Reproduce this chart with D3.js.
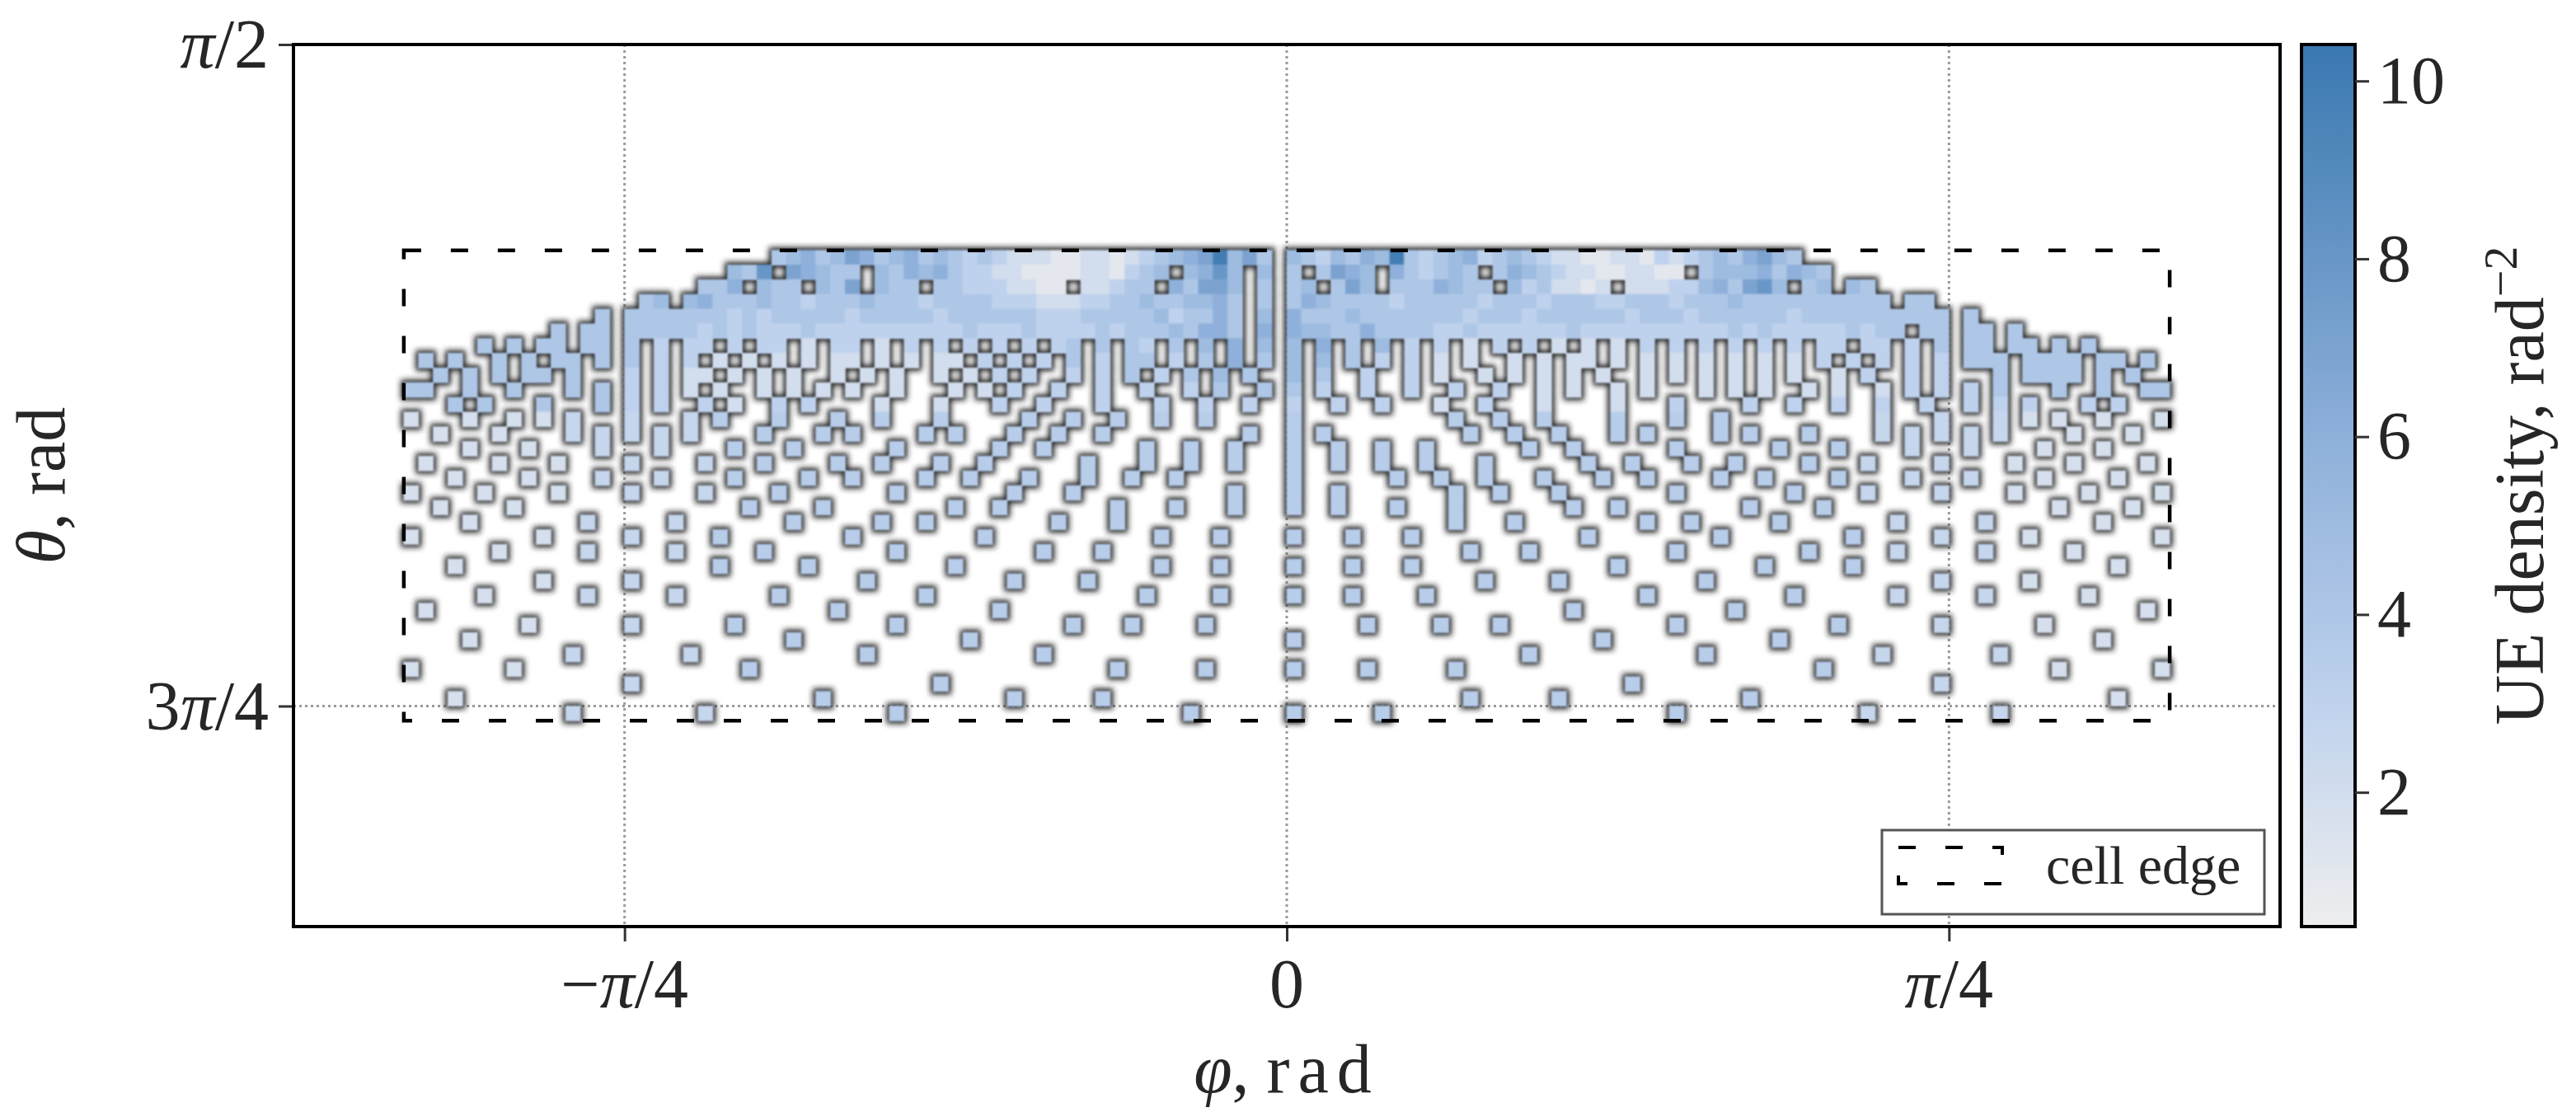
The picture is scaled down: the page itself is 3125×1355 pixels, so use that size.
<!DOCTYPE html>
<html>
<head>
<meta charset="utf-8">
<script src="https://cdn.jsdelivr.net/npm/d3@7"></script>
<style>
body { margin: 0; background: #fff; }
text { font-family: "Liberation Serif", "DejaVu Serif", serif; fill: #262626; }
</style>
</head>
<body>
<svg id="chart" width="3125" height="1355"></svg>
<script>
// 网格: 每格 1°, φ 从 -60° 起, θ 从 104° 起
const PHI_START = -60, THETA_START = 104, STEP = 1;
const N_COLS = 120, N_ROWS = 32;

// 密集带 rows 0-10, 每行 12 段, 每段 10 格 ('.' 空, 数字=密度, a=10)
const bandRows = [
  ["..........","..........",".....45645","7645645434","3222112212","34567a574.","5435465a43","4563454322","1122132345","46754.....","..........",".........."],
  ["..........","..........","..548.7654","4.54656433","2211112213","45.5685.5.","4.4765.643","454.465432","2112211.45","5564654...","..........",".........."],
  ["..........","..........","446.544.54","7.544.4433","32211.2234","4.64775.4.","45.475.444","6544.53422","12.2223356","4785.45.54","..........",".........."],
  ["..........","......45.5","6444544344","4544434444","3332223344","5445564.4.","4654444344","4443444344","4334443444","5444444444","4.44......",".........."],
  ["..........","...4.44444","4434344444","3444443444","4443334444","4534464.5.","6444544444","4434443444","4443444344","4444344444","44444.4...",".........."],
  ["..........","4.44.44444","3434333433","3333333343","3343333434","4454664.6.","6554464444","3343333334","3333333333","4343333343","44.44.44.4",".........."],
  [".....4.4.4","4.44.4.3.3","3.3.33.2.3","3.2.3.3.3.","3.3.34.4.4","3.4.5.6.5.","5.6.4.5.3.","3.2.3.3.2.","2.2.3.3.3.","3.3.3.33.3","3.3.4.44.4","4.4.4....."],
  [".4.4..4.4.","44.4.4.3.3",".2.2.2.2.2","2.2.2.22.3",".3.3.4.3.4","4.3.4.6.4.","5.5.4.3.3.","2.2..2.2.2","2.2.2.2.2.","2.2.2.3.3.","3.3.3.444.","4444.44.4."],
  ["..4.4.4.44",".4...3.3.2","2.2.2.2..2",".2.2..2.2.","3.3..3.3.4",".3.4.5.4..","5.4..3..3.","2..2.2.2.2",".2..2.2.2.","2.2.2..2.3","..3.3...4.","4444.4.4.."],
  ["44..4..4..",".4.4.3.3.2",".2..2.2.2.","2..2...2.2",".3..3..3..","3..3.4..4.","4.3..3..3.",".3..3..2.2","..2.2...2.","2.2..2.2..","2.3.3.3.4.","..4..4..44"],
  ["...4.4...4","...4.3.3..","3.2..3.3..","..2...2...","3..3...3..",".3..3..3..","3..3..3...","2..3...2..","..2...3...",".3..3..3..","3..3..3.3.","3...3.3..."]
];

// 稀疏点 rows 11-31: "列号+色调"  a=发白 b=浅 c=浅蓝
const dotRows = [
  "0a 4a 7a 9a 11b 15b 19b 21c 25c 29c 32c 36c 42c 45c 48c 51c 54c 60c 71c 74c 77c 82c 86c 89c 100b 104b 108b 110a 112a 115a 119a",
  "2a 6a 11b 13b 15b 17b 19b 24c 28c 30c 35c 37c 41c 44c 47c 57c 60c 62c 72c 75c 78c 82c 84c 89c 91c 95c 100b 102b 104b 106b 108b 113a 117a",
  "4a 8a 13b 17b 22c 26c 33c 40c 43c 50c 53c 56c 60c 63c 66c 69c 76c 79c 86c 93c 97c 102b 106b 111a 115a",
  "1a 6a 10a 15b 20b 24c 29c 32c 36c 39c 46c 50c 53c 56c 60c 63c 66c 69c 73c 80c 83c 87c 90c 95c 99b 104b 109a 113a 118a",
  "3a 8a 13b 17b 22c 27c 30c 35c 38c 42c 46c 49c 52c 60c 67c 70c 73c 77c 81c 84c 89c 92c 97c 102b 106b 111a 116a",
  "0a 5a 10a 15b 20b 25c 33c 41c 45c 56c 60c 63c 71c 74c 78c 86c 94c 99b 104b 109a 114a 119a",
  "2a 7a 23c 28c 37c 40c 48c 52c 56c 60c 63c 67c 71c 79c 82c 91c 96c 112a 117a",
  "4a 12b 18b 26c 32c 35c 44c 48c 71c 75c 84c 87c 93c 101b 107b 115a",
  "0a 9a 15b 21c 30c 39c 51c 55c 60c 64c 68c 80c 89c 98c 104b 110a 119a",
  "6a 12b 18b 24c 33c 43c 47c 72c 76c 86c 95c 101b 107b 113a",
  "3a 21c 27c 37c 51c 55c 60c 64c 68c 82c 92c 98c 116a",
  "9a 15b 31c 41c 46c 73c 78c 88c 104b 110a",
  "5a 12b 18b 25c 35c 50c 55c 60c 64c 69c 84c 94c 101b 107b 114a",
  "1a 29c 40c 79c 90c 118a",
  "8a 15b 22c 33c 45c 49c 54c 65c 70c 74c 86c 97c 104b 111a",
  "4a 26c 38c 60c 81c 93c 115a",
  "11b 19b 31c 43c 76c 88c 100b 108b",
  "0a 7a 23c 48c 54c 60c 65c 71c 96c 112a 119a",
  "15b 36c 83c 104b",
  "3a 28c 41c 47c 72c 78c 91c 116a",
  "11b 20b 33c 53c 60c 66c 86c 99b 108b"
];
const toneValue = { a: 1.8, b: 2.6, c: 3.4 };

const xTicks = [-Math.PI / 4, 0, Math.PI / 4];
const xTickLabels = ["−π/4", "0", "π/4"];
const yTicks = [Math.PI / 2, 3 * Math.PI / 4];
const yTickLabels = ["π/2", "3π/4"];
const cbTicks = [2, 4, 6, 8, 10];
const cbDomain = [0.49, 10.41];

const PLOT = { LEFT: 356, RIGHT: 2766, TOP: 54, BOTTOM: 1124 };
const CB = { LEFT: 2792, RIGHT: 2857 };
const rad = d => d * Math.PI / 180;

// 整理格子数据
const cells = [];
bandRows.forEach((chunks, r) => {
  chunks.forEach((s, k) => {
    for (let i = 0; i < 10 && i < s.length; i++) {
      const ch = s[i];
      if (ch === ".") continue;
      cells.push({ c: k * 10 + i, r: r, v: ch === "a" ? 10 : +ch });
    }
  });
});
dotRows.forEach((s, j) => {
  s.split(" ").forEach(t => {
    cells.push({ c: +t.slice(0, -1), r: 11 + j, v: toneValue[t.slice(-1)] });
  });
});

const svg = d3.select("#chart");
const xScale = d3.scaleLinear().domain([-3 * Math.PI / 8, 3 * Math.PI / 8]).range([PLOT.LEFT, PLOT.RIGHT]);
const yScale = d3.scaleLinear().domain([Math.PI / 2, 5 * Math.PI / 6]).range([PLOT.TOP, PLOT.BOTTOM]);
const color = d3.scaleLinear()
  .domain([cbDomain[0], 3, 6, cbDomain[1]])
  .range(["#eeeeee", "#bfd2ed", "#8eb0da", "#3a78b0"])
  .clamp(true);

const defs = svg.append("defs");
defs.append("filter").attr("id", "halo").attr("x", "-50%").attr("y", "-50%").attr("width", "200%").attr("height", "200%")
  .append("feGaussianBlur").attr("stdDeviation", 3.5);
defs.append("filter").attr("id", "soft").attr("x", "-20%").attr("y", "-20%").attr("width", "140%").attr("height", "140%")
  .append("feGaussianBlur").attr("stdDeviation", 1.3);
defs.append("clipPath").attr("id", "clip").append("rect")
  .attr("x", PLOT.LEFT).attr("y", PLOT.TOP).attr("width", PLOT.RIGHT - PLOT.LEFT).attr("height", PLOT.BOTTOM - PLOT.TOP);

const cw = xScale(rad(STEP)) - xScale(0);
const ch = yScale(rad(STEP)) - yScale(0);
const cx = d => xScale(rad(PHI_START + d.c * STEP));
const cy = d => yScale(rad(THETA_START + d.r * STEP));

const plot = svg.append("g").attr("clip-path", "url(#clip)");

// 网格线
const grid = plot.append("g").attr("stroke", "#9a9a9a").attr("stroke-width", 3).attr("stroke-dasharray", "3,4");
grid.selectAll(".gx").data(xTicks).enter().append("line")
  .attr("x1", d => xScale(d)).attr("x2", d => xScale(d)).attr("y1", PLOT.TOP).attr("y2", PLOT.BOTTOM);
grid.selectAll(".gy").data(yTicks).enter().append("line")
  .attr("y1", d => yScale(d)).attr("y2", d => yScale(d)).attr("x1", PLOT.LEFT).attr("x2", PLOT.RIGHT);

// 暗边 + 色块
plot.append("g").attr("filter", "url(#halo)")
  .selectAll("rect").data(cells).enter().append("rect")
  .attr("x", d => cx(d) - 3.5).attr("y", d => cy(d) - 3.5)
  .attr("width", cw + 7).attr("height", ch + 7).attr("fill", "#1e1e1e");
plot.append("g").attr("filter", "url(#soft)")
  .selectAll("rect").data(cells).enter().append("rect")
  .attr("x", d => cx(d) - 0.5).attr("y", d => cy(d) - 0.5)
  .attr("width", cw + 1).attr("height", ch + 1).attr("fill", d => color(d.v));

// cell edge
plot.append("rect")
  .attr("x", xScale(-Math.PI / 3)).attr("y", yScale(rad(THETA_START)))
  .attr("width", xScale(Math.PI / 3) - xScale(-Math.PI / 3))
  .attr("height", yScale(rad(THETA_START + N_ROWS * STEP)) - yScale(rad(THETA_START)))
  .attr("fill", "none").attr("stroke", "#000").attr("stroke-width", 4.5).attr("stroke-dasharray", "21,36");

// 坐标轴
const axisX = d3.axisBottom(xScale).tickValues(xTicks).tickSize(18).tickFormat("");
svg.append("g").attr("transform", `translate(0,${PLOT.BOTTOM})`).call(axisX)
  .call(g => g.select(".domain").remove())
  .call(g => g.selectAll("line").attr("stroke", "#333").attr("stroke-width", 3));
const axisY = d3.axisLeft(yScale).tickValues(yTicks).tickSize(18).tickFormat("");
svg.append("g").attr("transform", `translate(${PLOT.LEFT},0)`).call(axisY)
  .call(g => g.select(".domain").remove())
  .call(g => g.selectAll("line").attr("stroke", "#333").attr("stroke-width", 3));

svg.append("rect").attr("x", PLOT.LEFT).attr("y", PLOT.TOP)
  .attr("width", PLOT.RIGHT - PLOT.LEFT).attr("height", PLOT.BOTTOM - PLOT.TOP)
  .attr("fill", "none").attr("stroke", "#000").attr("stroke-width", 4);

function piLabel(sel, s) {
  s.split("").forEach(t => {
    sel.append("tspan").attr("font-style", t === "π" ? "italic" : "normal").text(t);
  });
}
xTicks.forEach((t, i) => {
  const txt = svg.append("text").attr("x", xScale(t)).attr("y", 1222)
    .attr("text-anchor", "middle").attr("font-size", 84);
  piLabel(txt, xTickLabels[i]);
});
yTicks.forEach((t, i) => {
  const txt = svg.append("text").attr("x", 326).attr("y", yScale(t) + 28)
    .attr("text-anchor", "end").attr("font-size", 84);
  piLabel(txt, yTickLabels[i]);
});

const xl = svg.append("text").attr("x", xScale(0)).attr("y", 1325).attr("text-anchor", "middle").attr("font-size", 84);
xl.append("tspan").attr("font-style", "italic").text("φ");
xl.append("tspan").text(", ");
xl.append("tspan").attr("letter-spacing", 10).text("rad");
const yl = svg.append("text").attr("transform", `translate(78,${(PLOT.TOP + PLOT.BOTTOM) / 2}) rotate(-90)`)
  .attr("text-anchor", "middle").attr("font-size", 84);
yl.append("tspan").attr("font-style", "italic").text("θ");
yl.append("tspan").text(", rad");

// 图例
const lg = svg.append("g");
lg.append("rect").attr("x", 2283).attr("y", 1007).attr("width", 464).attr("height", 102)
  .attr("fill", "#fff").attr("stroke", "#555").attr("stroke-width", 3);
lg.append("rect").attr("x", 2303).attr("y", 1028).attr("width", 126).attr("height", 44)
  .attr("fill", "none").attr("stroke", "#000").attr("stroke-width", 4).attr("stroke-dasharray", "21,36");
lg.append("text").attr("x", 2482).attr("y", 1072).attr("font-size", 66).text("cell edge");

// 色条
const cbScale = d3.scaleLinear().domain(cbDomain).range([PLOT.BOTTOM, PLOT.TOP]);
const grad = defs.append("linearGradient").attr("id", "cbgrad").attr("x1", 0).attr("x2", 0).attr("y1", 1).attr("y2", 0);
d3.range(0, 1.0001, 0.05).forEach(f => {
  grad.append("stop").attr("offset", f).attr("stop-color", color(cbDomain[0] + f * (cbDomain[1] - cbDomain[0])));
});
svg.append("rect").attr("x", CB.LEFT).attr("y", PLOT.TOP).attr("width", CB.RIGHT - CB.LEFT)
  .attr("height", PLOT.BOTTOM - PLOT.TOP).attr("fill", "url(#cbgrad)").attr("stroke", "#000").attr("stroke-width", 4);
const cbAxis = d3.axisRight(cbScale).tickValues(cbTicks).tickSize(17).tickPadding(10);
svg.append("g").attr("transform", `translate(${CB.RIGHT},0)`).call(cbAxis)
  .call(g => g.select(".domain").remove())
  .call(g => g.selectAll("line").attr("stroke", "#333").attr("stroke-width", 3))
  .call(g => g.selectAll("text").attr("font-size", 82).attr("font-family", "Liberation Serif").attr("fill", "#262626"));
const cl = svg.append("text").attr("transform", `translate(3085,${(PLOT.TOP + PLOT.BOTTOM) / 2}) rotate(-90)`)
  .attr("text-anchor", "middle").attr("font-size", 84);
cl.append("tspan").text("UE density, rad");
cl.append("tspan").attr("dy", -32).attr("font-size", 58).text("−2");
</script>
</body>
</html>
